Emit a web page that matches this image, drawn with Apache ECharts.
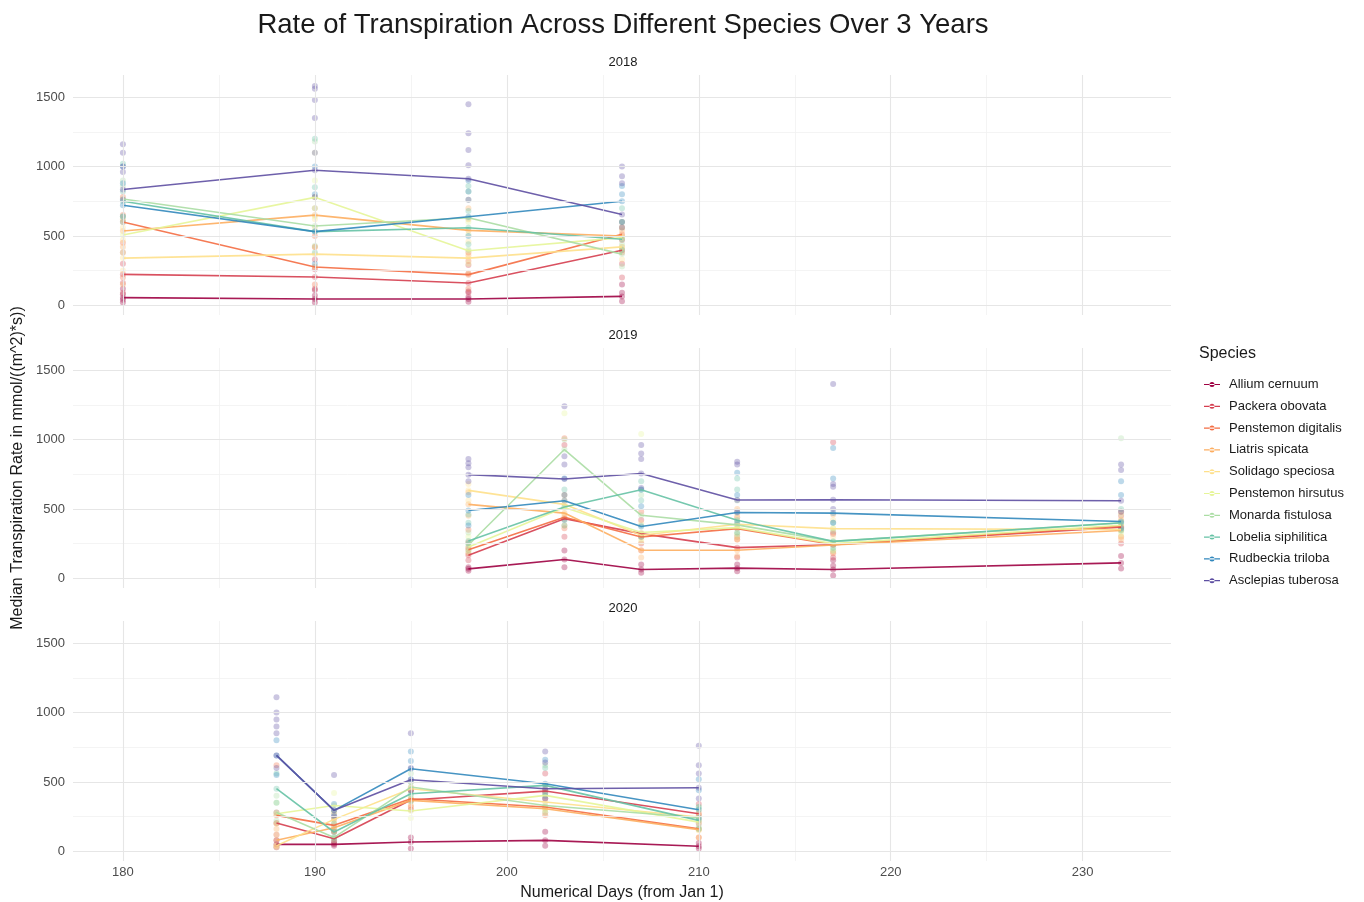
<!DOCTYPE html>
<html>
<head>
<meta charset="utf-8">
<script src="https://cdn.jsdelivr.net/npm/echarts@6/dist/echarts.min.js"></script>
<style>
html,body{margin:0;padding:0;background:#fff;}
#chart{width:1364px;height:902px;}
</style>
</head>
<body>
<div id="chart"></div>
<script>
// ---------- DATA ----------
const species = ["Allium cernuum","Packera obovata","Penstemon digitalis","Liatris spicata","Solidago speciosa","Penstemon hirsutus","Monarda fistulosa","Lobelia siphilitica","Rudbeckia triloba","Asclepias tuberosa"];
const years = ["2018","2019","2020"];
const xTicks = [180,190,200,210,220,230];
const xMinor = [185,195,205,215,225];
const yTicks = [0,500,1000,1500];
const yMinor = [250,750,1250];

const days2018 = [180,190,198,206];
const days2019 = [198,203,207,212,217,232];
const days2020 = [188,191,195,202,210];

// median lines (one row per species, one value per day)
const med2018 = [
  [55,45,45,64],
  [223,204,161,397],
  [601,276,221,512],
  [536,650,540,500],
  [340,369,340,421],
  [507,778,393,488],
  [766,571,631,369],
  [750,531,559,476],
  [721,531,638,750],
  [835,973,912,655]
];
const med2019 = [
  [68,136,63,73,63,111],
  [166,430,322,221,242,368],
  [205,440,298,358,244,376],
  [533,470,202,202,240,345],
  [634,533,310,389,358,352],
  [226,510,330,365,250,382],
  [240,928,454,385,266,398],
  [269,514,638,418,266,400],
  [489,559,373,474,470,409],
  [747,716,755,564,566,559]
];
const med2020 = [
  [50,50,67,79,36],
  [204,91,370,434,271],
  [259,187,379,319,163],
  [79,170,367,307,156],
  [40,230,451,355,247],
  [270,330,290,403,210],
  [280,100,463,330,242],
  [451,139,415,475,223],
  [691,295,595,487,300],
  [691,295,516,451,458]
];

// individual observations (per day: one list per species, same order as species)
const obs2018_180 = [[20,40,55,80,120],[90,160,223,300,380],[200,450,601,650,780],[150,420,536,620],[250,340,470,560],[380,507,640],[640,766,860,900],[600,750,820,1020],[640,721,880,1000],[760,835,960,1000,1100,1160]];
const obs2018_190 = [[20,45,70,110],[120,204,260,330],[150,276,420,500],[420,650,700,780],[280,369,560,620],[640,778,900,1100],[430,571,700,1180],[380,531,850,1200],[300,531,800,1000],[780,973,1100,1350,1480,1560,1580]];
const obs2018_198 = [[25,45,60,100],[90,161,230,290],[120,221,320,380],[360,540,620,700],[230,340,460],[300,393,510,600],[400,631,760,820],[440,559,680,860],[500,638,820,900],[760,912,1010,1120,1240,1450]];
const obs2018_206 = [[30,64,90,150],[200,300,397,470],[380,512,560,600],[420,500,540],[330,421,480],[400,488,560],[280,369,440],[400,476,600,700],[600,750,800,860],[560,655,880,930,1000]];

const obs2019_198 = [[55,68,80],[130,166,220],[180,205,260,350],[450,533,620],[560,634,680],[190,226,300],[200,240,330],[250,269,400,460],[380,489,600],[700,747,800,830,860]];
const obs2019_203 = [[80,136,200],[300,430,960],[360,440,1010],[380,470,560],[460,533,600],[420,510,1190],[600,928,1000],[380,514,640],[420,559,720],[600,716,820,880,1240]];
const obs2019_207 = [[40,63,100],[250,322,420],[200,298,480],[150,202,300],[260,310,400],[280,330,1040],[380,454,600],[560,638,700],[300,373,520,640],[650,755,860,900,960]];
const obs2019_212 = [[50,73,100],[150,221,300],[280,358,440],[160,202,280,500],[320,389,460],[300,365,420],[320,385,560],[330,418,640,720],[400,474,600,760],[480,564,820,840]];
const obs2019_217 = [[20,63,90,130],[150,242,320,980],[180,244,330],[190,240,460],[300,358,420],[200,250,360],[200,266,340],[220,266,400],[400,470,720,940],[500,566,660,680,1400]];
const obs2019_232 = [[70,111,160],[250,368,450],[300,376,480],[280,345,420],[300,352,420],[320,382,460],[340,398,1010],[350,400,500],[360,409,600,700],[480,559,780,820]];

const obs2020_188 = [[30,50,80],[120,204,280],[200,259,620],[40,79,160],[30,40,120],[200,270,350],[220,280,400],[350,451,560],[550,691,800],[600,691,850,900,950,1000,1110]];
const obs2020_191 = [[40,50,70],[60,91,140],[150,187,240],[140,170,230],[200,230,280],[280,330,420],[80,100,160],[100,139,200],[250,295,340],[260,295,550]];
const obs2020_195 = [[20,67,100],[300,370,440],[320,379,440],[330,367,460],[360,451,500],[240,290,380],[400,463,560],[360,415,500],[520,595,650,720],[440,516,600,850]];
const obs2020_202 = [[40,79,140],[380,434,560],[260,319,440],[280,307,420],[320,355,480],[300,403,440],[280,330,620],[400,475,600],[420,487,660],[380,451,640,720]];
const obs2020_210 = [[20,36,60],[200,271,340],[100,163,260],[100,156,220],[150,247,280],[160,210,300],[180,242,320],[160,223,320],[240,300,440,520],[380,458,560,620,760]];

// ---------- STYLE ----------
const colors = ["#9E0142","#D53E4F","#F46D43","#FDAE61","#FEE08B","#E6F598","#ABDDA4","#66C2A5","#3288BD","#5E4FA2"];
const FONT = "Liberation Sans, Arial, sans-serif";

const panels = [
  {days: days2018, med: med2018, obs: [obs2018_180,obs2018_190,obs2018_198,obs2018_206]},
  {days: days2019, med: med2019, obs: [obs2019_198,obs2019_203,obs2019_207,obs2019_212,obs2019_217,obs2019_232]},
  {days: days2020, med: med2020, obs: [obs2020_188,obs2020_191,obs2020_195,obs2020_202,obs2020_210]}
];

const gridTops = [75, 348, 621];
const grids = gridTops.map(t => ({left: 73, width: 1098, top: t, height: 240, containLabel: false}));

const xAxes = gridTops.map((t, g) => ({
  type: 'value', gridIndex: g, min: 177.4, max: 234.6,
  axisLine: {show: false}, axisTick: {show: false}, splitLine: {show: false},
  axisLabel: {show: g === 2, customValues: xTicks, formatter: v => String(v), color: '#4d4d4d', fontSize: 13, fontFamily: FONT, margin: 5},
  name: g === 2 ? 'Numerical Days (from Jan 1)' : '',
  nameLocation: 'middle', nameGap: 24,
  nameTextStyle: {fontSize: 16, color: '#1a1a1a', fontFamily: FONT}
}));
const yAxes = gridTops.map((t, g) => ({
  type: 'value', gridIndex: g, min: -70, max: 1660,
  axisLine: {show: false}, axisTick: {show: false}, splitLine: {show: false},
  axisLabel: {customValues: yTicks, formatter: v => String(v), color: '#4d4d4d', fontSize: 13, fontFamily: FONT, margin: 8},
  name: g === 1 ? 'Median Transpiration Rate in mmol/((m^2)*s))' : '',
  nameLocation: 'middle', nameGap: 42,
  nameTextStyle: {fontSize: 16, color: '#1a1a1a', fontFamily: FONT}
}));

const series = [];
panels.forEach((p, g) => {
  const ml = [];
  xMinor.forEach(v => ml.push({xAxis: v, lineStyle: {color: '#f1f1f1', width: 0.8, type: 'solid'}}));
  yMinor.forEach(v => ml.push({yAxis: v, lineStyle: {color: '#f1f1f1', width: 0.8, type: 'solid'}}));
  xTicks.forEach(v => ml.push({xAxis: v, lineStyle: {color: '#e6e6e6', width: 1.1, type: 'solid'}}));
  yTicks.forEach(v => ml.push({yAxis: v, lineStyle: {color: '#e6e6e6', width: 1.1, type: 'solid'}}));
  series.push({
    type: 'line', name: 'grid' + g, xAxisIndex: g, yAxisIndex: g, data: [], silent: true, z: 0,
    markLine: {silent: true, symbol: ['none','none'], label: {show: false}, animation: false, data: ml}
  });
  species.forEach((sp, s) => {
    const pts = [];
    p.days.forEach((d, i) => { p.obs[i][s].forEach(v => pts.push([d, v])); });
    series.push({
      type: 'scatter', name: 'obs-' + sp, xAxisIndex: g, yAxisIndex: g, data: pts,
      symbolSize: 6, itemStyle: {color: colors[s], opacity: 0.32}, silent: true, z: 1
    });
  });
  species.forEach((sp, s) => {
    series.push({
      type: 'line', name: sp, xAxisIndex: g, yAxisIndex: g,
      data: p.days.map((d, i) => [d, p.med[s][i]]),
      showSymbol: false, color: colors[s],
      lineStyle: {color: colors[s], width: 1.6, opacity: 0.9}, z: 3, animation: false
    });
  });
});

const chart = echarts.init(document.getElementById('chart'), null, {renderer: 'canvas'});
chart.setOption({
  backgroundColor: '#ffffff',
  animation: false,
  title: {
    text: 'Rate of Transpiration Across Different Species Over 3 Years',
    left: 618, top: 6, textAlign: 'center',
    textStyle: {fontSize: 27.5, fontWeight: 'normal', color: '#1a1a1a', fontFamily: FONT}
  },
  grid: grids,
  xAxis: xAxes,
  yAxis: yAxes,
  legend: {
    orient: 'vertical', left: 1199, top: 373, data: species,
    icon: 'path://M0,1.9h16v1.2h-16z M5.5,2.5a2.5,2.5 0 1,0 5,0a2.5,2.5 0 1,0 -5,0z',
    itemWidth: 16, itemHeight: 5, itemGap: 8.8,
    textStyle: {fontSize: 13, color: '#1a1a1a', fontFamily: FONT, padding: [0,0,0,4]}
  },
  graphic: [
    {type: 'text', left: 1199, top: 346, style: {text: 'Species', fontSize: 16, fill: '#1a1a1a', fontFamily: FONT}},
    {type: 'text', x: 623, y: 62, style: {text: years[0], fontSize: 13, fill: '#1a1a1a', fontFamily: FONT, align: 'center', verticalAlign: 'middle'}},
    {type: 'text', x: 623, y: 335, style: {text: years[1], fontSize: 13, fill: '#1a1a1a', fontFamily: FONT, align: 'center', verticalAlign: 'middle'}},
    {type: 'text', x: 623, y: 608, style: {text: years[2], fontSize: 13, fill: '#1a1a1a', fontFamily: FONT, align: 'center', verticalAlign: 'middle'}}
  ],
  series: series
});
</script>
</body>
</html>
